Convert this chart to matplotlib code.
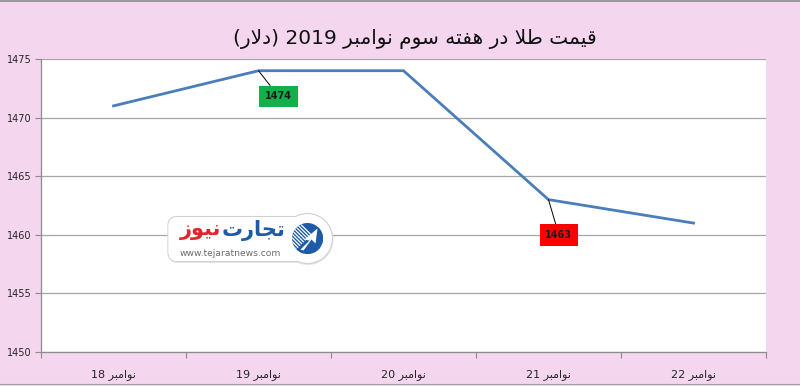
import re
import numpy as np
import matplotlib
matplotlib.use("Agg")
import matplotlib.pyplot as plt
from matplotlib.patches import FancyBboxPatch, Circle, Polygon

# ---------------- data ----------------
title_text = "قیمت طلا در هفته سوم نوامبر 2019 (دلار)"
categories = ["18 نوامبر", "19 نوامبر", "20 نوامبر", "21 نوامبر", "22 نوامبر"]
prices = [1471, 1474, 1474, 1463, 1461]
y_ticks = [1450, 1455, 1460, 1465, 1470, 1475]
labelled_points = [1, 3]          # indices with data labels
label_colors = ["#12b04a", "#ff0000"]
logo_word1 = "تجارت"
logo_word2 = "نیوز"
logo_url = "www.tejaratnews.com"

# ---------------- minimal Arabic-script shaping ----------------
FORMS = {
    'ا': ('\uFE8D', '\uFE8E', None, None),
    'ب': ('\uFE8F', '\uFE90', '\uFE91', '\uFE92'),
    'ت': ('\uFE95', '\uFE96', '\uFE97', '\uFE98'),
    'ج': ('\uFE9D', '\uFE9E', '\uFE9F', '\uFEA0'),
    'د': ('\uFEA9', '\uFEAA', None, None),
    'ر': ('\uFEAD', '\uFEAE', None, None),
    'ز': ('\uFEAF', '\uFEB0', None, None),
    'س': ('\uFEB1', '\uFEB2', '\uFEB3', '\uFEB4'),
    'ط': ('\uFEC1', '\uFEC2', '\uFEC3', '\uFEC4'),
    'ف': ('\uFED1', '\uFED2', '\uFED3', '\uFED4'),
    'ق': ('\uFED5', '\uFED6', '\uFED7', '\uFED8'),
    'ل': ('\uFEDD', '\uFEDE', '\uFEDF', '\uFEE0'),
    'م': ('\uFEE1', '\uFEE2', '\uFEE3', '\uFEE4'),
    'ن': ('\uFEE5', '\uFEE6', '\uFEE7', '\uFEE8'),
    'ه': ('\uFEE9', '\uFEEA', '\uFEEB', '\uFEEC'),
    'و': ('\uFEED', '\uFEEE', None, None),
    'ی': ('\uFBFC', '\uFBFD', '\uFBFE', '\uFBFF'),
}


def dual(c):
    return c in FORMS and FORMS[c][2] is not None


def shape(s):
    out = []
    i = 0
    n = len(s)
    while i < n:
        c = s[i]
        if c not in FORMS:
            out.append(c)
            i += 1
            continue
        jp = i > 0 and dual(s[i - 1])
        if c == 'ل' and i + 1 < n and s[i + 1] == 'ا':
            out.append('\uFEFC' if jp else '\uFEFB')
            i += 2
            continue
        jn = dual(c) and i + 1 < n and s[i + 1] in FORMS
        iso, fin, ini, med = FORMS[c]
        if jp and jn:
            out.append(med)
        elif jp:
            out.append(fin)
        elif jn:
            out.append(ini)
        else:
            out.append(iso)
        i += 1
    return ''.join(out)


MIRROR = {'(': ')', ')': '('}


def visual(s, rtl=True):
    sh = shape(s)
    if rtl:
        r = sh[::-1]
        r = re.sub(r'[0-9A-Za-z.]+', lambda m: m.group(0)[::-1], r)
        return ''.join(MIRROR.get(ch, ch) for ch in r)
    return re.sub(r'[\uFB50-\uFEFF]+', lambda m: m.group(0)[::-1], sh)


# ---------------- figure ----------------
BG = "#f4d6ef"
W, H = 800.0, 386.0
fig = plt.figure(figsize=(8.0, 3.86), dpi=100, facecolor=BG)
ax = fig.add_axes([41 / W, 1 - 352 / H, (766 - 41) / W, (352 - 59) / H])
ax.set_facecolor("white")

x = list(range(len(prices)))
ax.plot(x, prices, color="#4a7ebb", lw=2.0, solid_joinstyle="miter", zorder=3)

ax.set_xlim(-0.5, len(prices) - 0.5)
ax.set_ylim(y_ticks[0], y_ticks[-1])
ax.set_yticks(y_ticks)
ax.set_yticklabels([str(v) for v in y_ticks])
ax.yaxis.grid(True, color="#a6a6a6", lw=0.9)
ax.set_axisbelow(True)

ax.set_xticks(x)
ax.set_xticklabels([visual(c, rtl=False) for c in categories])
ax.set_xticks([i - 0.5 for i in range(len(prices) + 1)], minor=True)
ax.tick_params(axis="x", which="major", length=0, pad=12, labelsize=8,
               labelcolor="#262626")
ax.tick_params(axis="x", which="minor", length=4, color="#8c8c8c", width=0.8)
ax.tick_params(axis="y", length=4, color="#8c8c8c", width=0.8, pad=3,
               labelsize=7, labelcolor="#262626")

for sp in ["top", "right"]:
    ax.spines[sp].set_visible(False)
for sp in ["left", "bottom"]:
    ax.spines[sp].set_color("#8c8c8c")
    ax.spines[sp].set_linewidth(0.9)

# data labels
offsets = [(14.5, -18.5), (7.5, -25.5)]
for idx, col, off in zip(labelled_points, label_colors, offsets):
    ax.annotate(str(prices[idx]), xy=(idx, prices[idx]), xytext=off,
                textcoords="offset points", ha="center", va="center",
                fontsize=7, fontweight="bold", color="#1a1a1a",
                bbox=dict(boxstyle="square,pad=0.6", fc=col, ec="none"),
                arrowprops=dict(arrowstyle="-", color="black", lw=0.7,
                                shrinkA=0, shrinkB=0),
                zorder=5)

# title
fig.text(0.518, 0.900, visual(title_text), ha="center", va="center",
         fontsize=14.5, color="#111111", family=["DejaVu Sans"])

# thin frame lines of the screenshot
fig.add_artist(plt.Line2D([0, 1], [0.998, 0.998], color="#8c8c8c", lw=1.2,
                          transform=fig.transFigure))
fig.add_artist(plt.Line2D([0, 1], [0.006, 0.006], color="#a0a0a0", lw=0.8,
                          transform=fig.transFigure))

# ---------------- logo watermark (pixel coordinates) ----------------
L0, L1, T0, T1 = 160, 340, 208, 270
lax = fig.add_axes([L0 / W, 1 - T1 / H, (L1 - L0) / W, (T1 - T0) / H])
lax.set_xlim(L0, L1)
lax.set_ylim(T1, T0)
lax.axis("off")
lax.set_zorder(6)

cx, cy = 307.5, 238.5
# shadow + box + bulge
lax.add_patch(FancyBboxPatch((169, 218), 140, 45,
                             boxstyle="round,pad=0,rounding_size=9",
                             fc="#e6e6e6", ec="none", zorder=1))
lax.add_patch(Circle((cx + 0.5, cy + 1.0), 25.5, fc="#e6e6e6", ec="none", zorder=1))
lax.add_patch(FancyBboxPatch((168, 216.5), 140, 45,
                             boxstyle="round,pad=0,rounding_size=9",
                             fc="white", ec="#d0d0d0", lw=0.8, zorder=2))
lax.add_patch(Circle((cx, cy), 25, fc="white", ec="#d0d0d0", lw=0.8, zorder=2))
lax.add_patch(FancyBboxPatch((168.5, 217), 139, 44,
                             boxstyle="round,pad=0,rounding_size=9",
                             fc="white", ec="none", zorder=3))
# icon
r = 15.5
icon = Circle((cx, cy), r, fc="#1d5aa8", ec="none", zorder=4)
lax.add_patch(icon)
for k in range(-7, 3):
    d = k * 2.6
    t = np.linspace(-r, r, 2)
    xs = cx + t / np.sqrt(2) + d / np.sqrt(2)
    ys = cy + t / np.sqrt(2) - d / np.sqrt(2)
    ln, = lax.plot(xs, ys, color="white", lw=0.9, zorder=5)
    ln.set_clip_path(icon)
lax.add_patch(Polygon([[cx - r, cy + r], [cx + r, cy - r], [cx + r, cy + r]],
                      closed=True, fc="#1d5aa8", ec="none", zorder=6,
                      clip_path=None))
solid = Circle((cx, cy), r, fc="none", ec="none")
lax.add_patch(solid)
for p in lax.patches[-2:-1]:
    p.set_clip_path(icon)
lax.add_patch(Polygon([[cx - 7, cy + 11], [cx + 2, cy + 2], [cx - 3, cy + 1],
                       [cx + 10, cy - 10], [cx + 8, cy + 5], [cx + 4, cy + 1],
                       [cx - 4, cy + 12]],
                      closed=True, fc="white", ec="none", zorder=7))

lax.text(222, 230.5, visual(logo_word1), ha="left", va="center",
         fontsize=15, fontweight="bold", color="#1d5aa8", zorder=8)
lax.text(221, 230.5, visual(logo_word2), ha="right", va="center",
         fontsize=15, fontweight="bold", color="#e0262b", zorder=8)
lax.text(230, 253.5, logo_url, ha="center", va="center",
         fontsize=6.6, color="#6b6b6b", zorder=8)

fig.savefig("out.png", dpi=100, facecolor=BG)
